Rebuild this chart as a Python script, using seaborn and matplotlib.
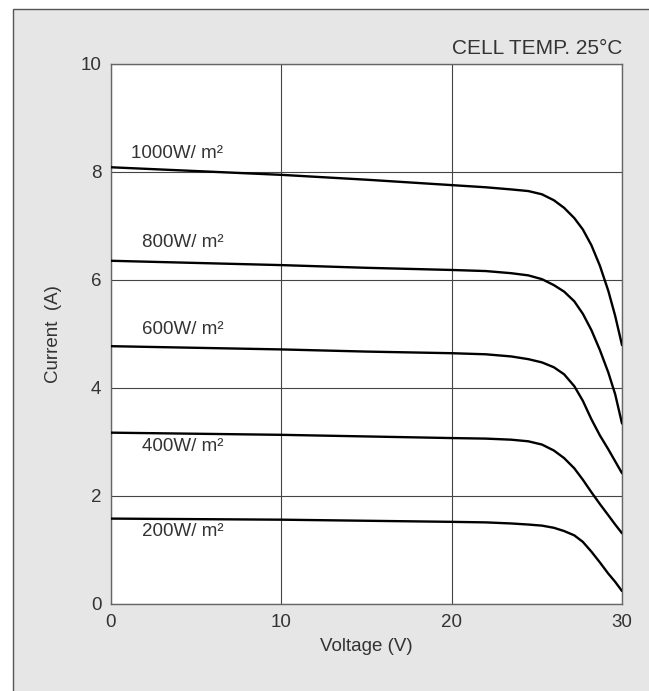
import matplotlib
matplotlib.use('Agg')
import matplotlib.pyplot as plt
import seaborn as sns
import pandas as pd
from matplotlib.patches import Rectangle

# voltage points (V)
voltage = [0, 5, 10, 15, 20, 22, 23.5, 24.5, 25.3, 26, 26.6, 27.2, 27.7, 28.2, 28.7, 29.2, 29.6, 30]

# current (A) for each irradiance
i_1000 = [8.08, 8.01, 7.94, 7.85, 7.75, 7.71, 7.67, 7.64, 7.58, 7.47, 7.33, 7.14, 6.93, 6.64, 6.26, 5.79, 5.33, 4.79]
i_800 = [6.35, 6.31, 6.27, 6.22, 6.18, 6.16, 6.12, 6.08, 6.01, 5.90, 5.78, 5.60, 5.37, 5.07, 4.70, 4.28, 3.88, 3.34]
i_600 = [4.77, 4.74, 4.71, 4.67, 4.64, 4.62, 4.58, 4.53, 4.47, 4.38, 4.25, 4.03, 3.76, 3.42, 3.12, 2.86, 2.64, 2.42]
i_400 = [3.17, 3.15, 3.13, 3.10, 3.07, 3.06, 3.04, 3.01, 2.95, 2.84, 2.70, 2.51, 2.30, 2.07, 1.85, 1.64, 1.47, 1.31]
i_200 = [1.58, 1.57, 1.56, 1.54, 1.52, 1.51, 1.49, 1.47, 1.45, 1.41, 1.35, 1.27, 1.15, 0.97, 0.77, 0.56, 0.41, 0.24]

labels = ['1000W/ m²', '800W/ m²', '600W/ m²', '400W/ m²', '200W/ m²']
label_x = [1.2, 1.8, 1.8, 1.8, 1.8]
label_y = [8.34, 6.68, 5.08, 2.92, 1.35]

rows = []
for lab, cur in zip(labels, [i_1000, i_800, i_600, i_400, i_200]):
    for v, c in zip(voltage, cur):
        rows.append({'Voltage': v, 'Current': c, 'Irradiance': lab})
df = pd.DataFrame(rows)

sns.set_style('white')
plt.rcParams['font.family'] = ['Liberation Sans', 'DejaVu Sans']
txt = '#333333'

fig = plt.figure(figsize=(6.49, 6.91), dpi=100, facecolor='white')
bg = Rectangle((13 / 649, -0.1), 1.2, 1.1 - 9 / 691, transform=fig.transFigure,
               facecolor='#e6e6e6', edgecolor='#555555', linewidth=1, zorder=-10)
fig.patches.append(bg)

ax = fig.add_axes([111 / 649, 87 / 691, 511 / 649, 540.5 / 691])
ax.set_facecolor('white')

sns.lineplot(data=df, x='Voltage', y='Current', units='Irradiance', estimator=None,
             color='black', linewidth=1.7, ax=ax, zorder=3)

ax.set_xlim(0, 30)
ax.set_ylim(0, 10)
ax.set_xticks([0, 10, 20, 30])
ax.set_yticks([0, 2, 4, 6, 8, 10])
ax.grid(True, color='#444444', linewidth=0.8)
for s in ax.spines.values():
    s.set_color('#666666')
    s.set_linewidth(1.0)
ax.tick_params(length=0, labelsize=13.5, labelcolor=txt, pad=7)

ax.set_xlabel('Voltage (V)', fontsize=13.5, color=txt, labelpad=5)
ax.set_ylabel('Current  (A)', fontsize=13.5, color=txt, labelpad=13)

for lab, x, y in zip(labels, label_x, label_y):
    ax.text(x, y, lab, fontsize=13.5, color=txt, va='center', ha='left')

ax.text(1.0, 1.01, 'CELL TEMP. 25°C', transform=ax.transAxes, fontsize=15,
        color=txt, ha='right', va='bottom')

fig.savefig('out.png', dpi=100, facecolor=fig.get_facecolor())
